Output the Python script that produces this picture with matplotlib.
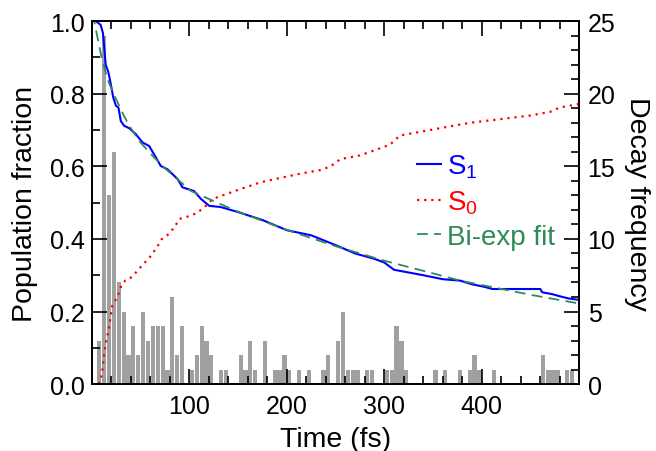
import matplotlib.pyplot as plt
import numpy as np
from matplotlib.ticker import MultipleLocator

# decay histogram, 5 fs bins starting at 0 fs
bin_start = np.arange(0, 500, 5)
counts = [0, 3, 24, 13, 16, 7, 5, 2, 4, 2,
          5, 3, 4, 4, 4, 1, 6, 2, 4, 0,
          1, 2, 4, 3, 2, 0, 1, 1, 0, 0,
          2, 1, 3, 1, 0, 3, 0, 1, 1, 2,
          1, 0, 1, 0, 1, 0, 0, 1, 2, 0,
          3, 5, 1, 1, 1, 0, 1, 1, 0, 0,
          1, 1, 4, 3, 1, 0, 0, 0, 0, 0,
          1, 0, 1, 0, 0, 1, 0, 1, 2, 1,
          0, 0, 1, 0, 0, 0, 0, 0, 0, 0,
          0, 0, 2, 1, 1, 1, 0, 1, 1, 0]

# S1 population
t_s1 = [4, 6, 9, 11.5, 12.7, 14.2, 17, 19.5, 21.9, 24.7, 27.3, 29.7, 33, 38.3,
        45, 51.9, 58.8, 65.6, 70.7, 77.5, 88, 93, 104.8, 112, 120.5, 132,
        150, 175, 200, 225, 250, 270, 290, 300, 310, 340, 360, 378, 390,
        401, 411, 460, 462, 472, 480, 489, 500]
s1 = [1.0, 0.996, 0.99, 0.966, 0.928, 0.88, 0.859, 0.826, 0.79, 0.767, 0.762,
      0.725, 0.712, 0.705, 0.689, 0.666, 0.656, 0.625, 0.601, 0.592, 0.565,
      0.542, 0.532, 0.51, 0.491, 0.488, 0.474, 0.452, 0.424, 0.41, 0.383,
      0.36, 0.345, 0.335, 0.315, 0.30, 0.289, 0.285, 0.275, 0.269, 0.262,
      0.262, 0.253, 0.248, 0.242, 0.236, 0.232]

# S0 population
t_s0 = [7, 9.1, 10.7, 12.5, 14.2, 15.9, 17.6, 19.4, 21, 22.8, 26.2, 27.9, 30.7,
        34.1, 38.2, 41.6, 46.7, 51.8, 56.9, 62.1, 65.5, 68.9, 71.6, 77.4,
        84.7, 89.8, 94.8, 101.7, 108.5, 117, 123.8, 150, 173, 214, 235, 245,
        255, 275, 296, 306, 316, 347, 367, 388, 419, 450, 470, 480, 500]
s0 = [0.0, 0.009, 0.037, 0.078, 0.11, 0.133, 0.156, 0.188, 0.216, 0.225,
      0.239, 0.253, 0.274, 0.285, 0.289, 0.297, 0.312, 0.328, 0.342, 0.358,
      0.374, 0.386, 0.399, 0.41, 0.432, 0.455, 0.459, 0.464, 0.473, 0.491,
      0.51, 0.535, 0.556, 0.58, 0.59, 0.60, 0.62, 0.63, 0.65, 0.66, 0.685,
      0.70, 0.71, 0.72, 0.73, 0.74, 0.75, 0.762, 0.772]

# bi-exponential fit
t_fit = [0, 2.7, 9.7, 16, 24, 32, 38.3, 48.6, 60.5, 74, 101.7, 132, 150, 200,
         250, 300, 350, 378, 400, 415, 450, 500]
fit = [1.02, 0.996, 0.904, 0.84, 0.79, 0.744, 0.712, 0.67, 0.634, 0.597,
       0.532, 0.496, 0.475, 0.425, 0.38, 0.34, 0.305, 0.285, 0.273, 0.265,
       0.246, 0.222]


def main():
    plt.rcParams["font.family"] = ["Liberation Sans", "DejaVu Sans"]
    plt.rcParams["mathtext.fontset"] = "custom"
    plt.rcParams["mathtext.rm"] = "Liberation Sans"

    fig = plt.figure(figsize=(6.56, 4.52), dpi=100)
    ax = fig.add_axes([0.140, 0.148, 0.743, 0.803])
    ax2 = ax.twinx()
    ax.set_zorder(ax2.get_zorder() + 1)
    ax.patch.set_visible(False)

    ax2.bar(bin_start + 2.6, counts, width=4.3, color="#a0a0a0", linewidth=0)
    ax2.set_ylim(0, 25)
    ax2.set_ylabel("Decay frequency", fontsize=20.5, rotation=270, labelpad=25)
    ax2.yaxis.set_major_locator(MultipleLocator(5))
    ax2.yaxis.set_minor_locator(MultipleLocator(1))
    ax2.tick_params(axis="y", which="major", direction="in", length=11, width=1.2, labelsize=18, pad=6)
    ax2.tick_params(axis="y", which="minor", direction="in", length=6, width=1.2)

    ax.plot(t_s1, s1, color="#0000ff", lw=1.5, label=r"$\mathregular{S_1}$")
    ax.plot(t_s0, s0, color="#ff0000", lw=1.6, dashes=(1, 2.2), label=r"$\mathregular{S_0}$")
    ax.plot(t_fit, fit, color="#2e8b57", lw=1.3, dashes=(6, 3.5), label="Bi-exp fit")

    ax.set_xlim(0, 500)
    ax.set_ylim(0, 1.0)
    ax.xaxis.set_major_locator(MultipleLocator(100))
    ax.xaxis.set_minor_locator(MultipleLocator(20))
    ax.yaxis.set_major_locator(MultipleLocator(0.2))
    ax.yaxis.set_minor_locator(MultipleLocator(0.1))
    ax.set_xticks([100, 200, 300, 400])
    ax.tick_params(which="major", direction="in", length=11, width=1.2, labelsize=18, top=True, pad=5)
    ax.tick_params(axis="x", which="major", pad=7)
    ax.tick_params(which="minor", direction="in", length=6, width=1.2, top=True)
    ax.set_xlabel("Time (fs)", fontsize=20.5, labelpad=6)
    ax.set_ylabel("Population fraction", fontsize=20.5, labelpad=9)

    for a in (ax, ax2):
        for sp in a.spines.values():
            sp.set_linewidth(1.3)

    leg = ax.legend(loc="upper left", bbox_to_anchor=(0.667, 0.638), frameon=False,
                    fontsize=20, handlelength=0.85, handletextpad=0.25,
                    labelspacing=0.3, borderaxespad=0, borderpad=0)
    for line, text in zip(leg.get_lines(), leg.get_texts()):
        text.set_color(line.get_color())

    plt.savefig("out.png", dpi=100)


if __name__ == "__main__":
    main()
